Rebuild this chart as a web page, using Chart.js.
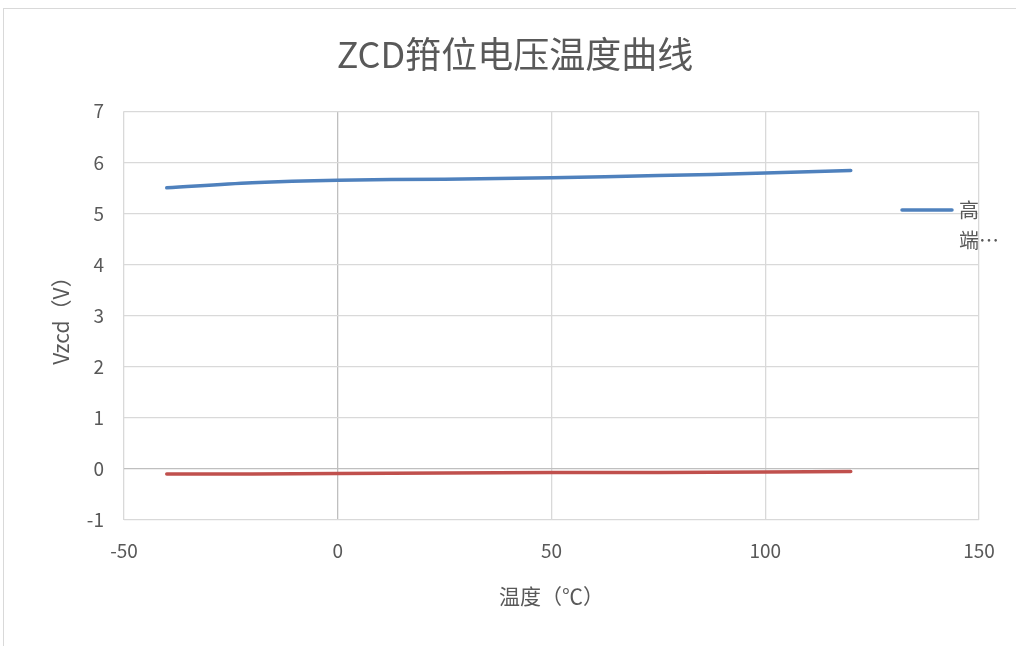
<!DOCTYPE html>
<html>
<head>
<meta charset="utf-8">
<script src="https://cdn.jsdelivr.net/npm/chart.js@4/dist/chart.umd.min.js"></script>
<style>
    html, body { margin: 0; padding: 0; background: #fff; overflow: hidden; }
    #cadre {
        position: absolute; left: 3px; top: 8px; width: 1030px; height: 660px;
        border: 1px solid #d9d9d9; box-sizing: border-box;
    }
    #zone { position: absolute; left: 0; top: 0; width: 1016px; height: 646px; }
</style>
</head>
<body>
<div id="cadre"></div>
<div id="zone"><canvas id="graphique"></canvas></div>
<script>
// Données
const temperatures = [-40, -20, 0, 25, 50, 75, 100, 120];
const tensionHaute = [5.50, 5.60, 5.65, 5.67, 5.70, 5.74, 5.79, 5.84];
const tensionBasse = [-0.10, -0.10, -0.09, -0.08, -0.07, -0.07, -0.06, -0.05];
const nomsSeries = ["高端", "低端"];
const couleurs = ["#4f81bd", "#c0504d"];

const gris = "#595959";
const police = '"Noto Sans CJK SC", "Noto Sans", sans-serif';

function points (xs, ys) {
    return xs.map((x, i) => ({ x: x, y: ys[i] }));
}

// Légende dessinée à la main (texte coupé comme dans Excel)
const legendePlugin = {
    id: "legendeExcel",
    afterDraw (chart) {
        const ctx = chart.ctx;
        const ds = chart.data.datasets[0];
        ctx.save();
        ctx.strokeStyle = ds.borderColor;
        ctx.lineWidth = 3.5;
        ctx.lineCap = "round";
        ctx.beginPath();
        ctx.moveTo(902, 210);
        ctx.lineTo(952, 210);
        ctx.stroke();
        ctx.fillStyle = gris;
        ctx.font = "20px " + police;
        ctx.textBaseline = "middle";
        const label = ds.label;
        ctx.fillText(label[0], 959, 210);
        ctx.fillText(label.slice(1) + "…", 959, 240);
        ctx.restore();
    }
};

const data = {
    datasets: [
        {
            label: nomsSeries[0],
            data: points(temperatures, tensionHaute),
            borderColor: couleurs[0],
            backgroundColor: couleurs[0],
        },
        {
            label: nomsSeries[1],
            data: points(temperatures, tensionBasse),
            borderColor: couleurs[1],
            backgroundColor: couleurs[1],
        }
    ]
};

const config = {
    type: "scatter",
    data: data,
    options: {
        responsive: true,
        maintainAspectRatio: false,
        animation: false,
        // padding droit négatif : le titre est centré sur le cadre entier
        layout: { padding: { top: 8, right: -14, bottom: 0, left: 0 } },
        elements: {
            line: { borderWidth: 3.5, tension: 0.35, borderCapStyle: "round" },
            point: { radius: 0, hoverRadius: 0 }
        },
        datasets: { scatter: { showLine: true } },
        plugins: {
            legend: { display: false },
            tooltip: { enabled: false },
            title: {
                display: true,
                text: "ZCD箝位电压温度曲线",
                color: gris,
                font: { family: police, size: 36, weight: "normal", lineHeight: 1.2 },
                padding: { top: 25, bottom: 35 }
            }
        },
        scales: {
            x: {
                type: "linear",
                min: -50,
                max: 150,
                ticks: { stepSize: 50, color: gris, padding: 19, font: { family: police, size: 19 } },
                grid: {
                    color: (c) => c.tick && c.tick.value === 0 ? "#bfbfbf" : "#d9d9d9",
                    lineWidth: 1.3,
                    drawTicks: false
                },
                border: { display: false },
                title: {
                    display: true,
                    text: "温度（℃）",
                    color: gris,
                    font: { family: police, size: 21 },
                    padding: { top: 14, bottom: 37 }
                },
                afterFit: (s) => { s.height = 126; }
            },
            y: {
                min: -1,
                max: 7,
                ticks: { stepSize: 1, color: gris, padding: 20, font: { family: police, size: 19 } },
                grid: {
                    color: (c) => c.tick && c.tick.value === 0 ? "#bfbfbf" : "#d9d9d9",
                    lineWidth: 1.3,
                    drawTicks: false
                },
                border: { display: false },
                title: {
                    display: true,
                    text: "Vzcd（V）",
                    color: gris,
                    font: { family: police, size: 21 },
                    padding: { top: 48, bottom: 20 }
                },
                afterFit: (s) => { s.width = 124; }
            },
            // axe vide à droite, réserve la place de la légende
            marge: {
                type: "linear",
                position: "right",
                display: true,
                ticks: { display: false },
                grid: { display: false },
                border: { display: false },
                afterFit: (s) => { s.width = 51; }
            }
        }
    },
    plugins: [legendePlugin]
};

new Chart(document.getElementById("graphique"), config);
</script>
</body>
</html>
